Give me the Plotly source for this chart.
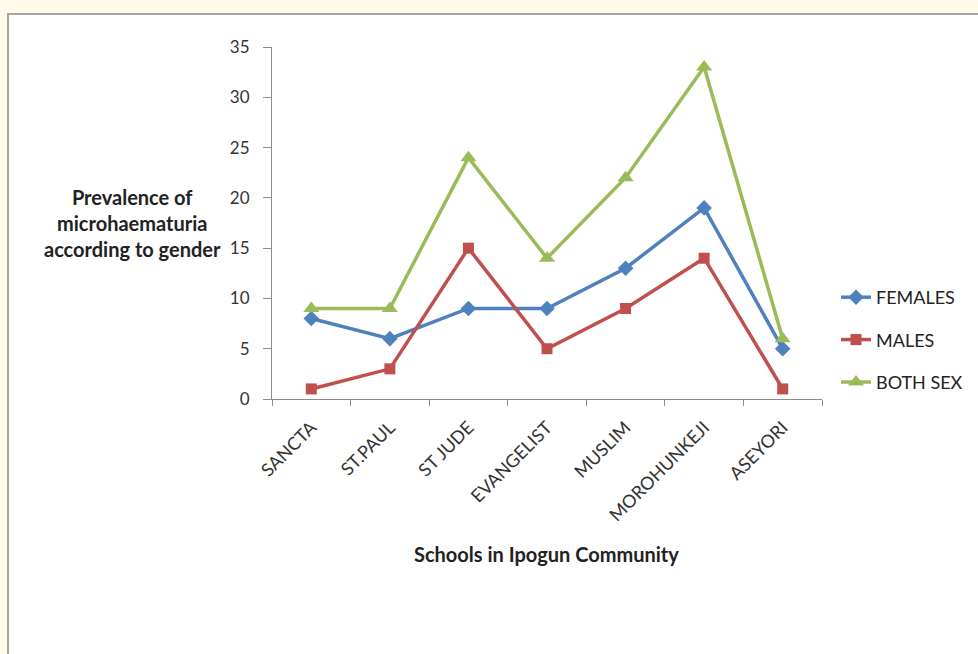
import plotly.graph_objects as go

schools = ["SANCTA", "ST.PAUL", "ST JUDE", "EVANGELIST", "MUSLIM", "MOROHUNKEJI", "ASEYORI"]
females = [8, 6, 9, 9, 13, 19, 5]
males = [1, 3, 15, 5, 9, 14, 1]
both_sex = [9, 9, 24, 14, 22, 33, 6]

W, H = 978, 654
L, R, T, B = 272, 156, 47, 255
pw, ph = W - L - R, H - T - B


def px_x(v):
    return (v - L) / pw


def px_y(v):
    return (H - B - v) / ph


fig = go.Figure()
series = [
    ("FEMALES", females, "#4F81BD", "diamond", 12),
    ("MALES", males, "#C0504D", "square", 11),
    ("BOTH SEX", both_sex, "#9BBB59", "triangle-up", 14),
]
for i, (name, vals, col, sym, sz) in enumerate(series):
    fig.add_trace(go.Scatter(
        x=schools, y=vals, name=name, mode="lines+markers",
        line=dict(color=col, width=3.5),
        marker=dict(symbol=sym, size=sz, color=col),
        legendgroup=f"g{i}",
    ))

axis_col = "#8c8c8c"
FONT = "Lato, Open Sans, sans-serif"

fig.update_xaxes(
    type="category", range=[-0.5, 6.5], tickson="boundaries",
    ticks="outside", ticklen=6, tickcolor=axis_col,
    showline=True, linecolor=axis_col, linewidth=1,
    showgrid=False, zeroline=False, tickangle=-45,
    tickfont=dict(family=FONT, size=18, color="#333333"),
    ticklabelstandoff=10,
)
fig.update_yaxes(
    range=[0, 35], dtick=5, ticks="outside", ticklen=8, tickcolor=axis_col,
    showline=True, linecolor=axis_col, linewidth=1,
    showgrid=False, zeroline=False,
    tickfont=dict(family=FONT, size=17, color="#333333"),
    ticklabelstandoff=10,
)

# frame: pale yellow page with a grey-bordered white chart panel
fig.add_shape(type="rect", xref="paper", yref="paper", layer="below",
              x0=px_x(8), x1=px_x(990), y0=px_y(670), y1=px_y(14),
              fillcolor="white", line=dict(color="#a6a6a6", width=2))

bold = dict(family=FONT, size=20, color="#222222")
fig.add_annotation(
    text="<b>Prevalence of<br>microhaematuria<br>according to gender</b>",
    xref="paper", yref="paper", x=px_x(132), y=px_y(223),
    xanchor="center", yanchor="middle",
    showarrow=False, font=bold, align="center",
)
fig.add_annotation(
    text="<b>Schools in Ipogun Community</b>",
    xref="paper", yref="paper", x=px_x(546), y=px_y(554),
    xanchor="center", yanchor="middle",
    showarrow=False, font=bold,
)

fig.update_layout(
    width=W, height=H,
    margin=dict(l=L, r=R, t=T, b=B, autoexpand=False),
    paper_bgcolor="#fffbe8", plot_bgcolor="white",
    showlegend=True,
    legend=dict(
        x=px_x(836), y=px_y(279), xanchor="left", yanchor="top",
        traceorder="grouped", tracegroupgap=16,
        font=dict(family=FONT, size=18, color="#222222"),
        bgcolor="rgba(0,0,0,0)", itemwidth=30,
    ),
)

fig.write_html("out.html")
